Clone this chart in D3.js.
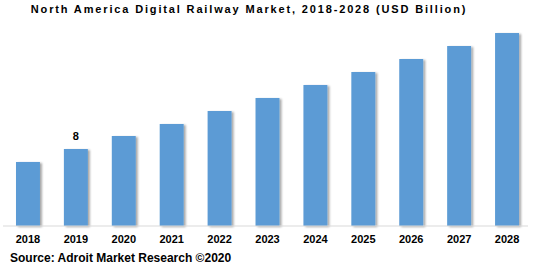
<!DOCTYPE html>
<html><head><meta charset="utf-8">
<script src="https://cdn.jsdelivr.net/npm/d3@7"></script>
<style>body{margin:0;background:#fff}svg{display:block}</style>
</head><body><svg id="c" width="533" height="267"></svg>
<script>
const years = ["2018","2019","2020","2021","2022","2023","2024","2025","2026","2027","2028"];
const values = [6.65,8,9.35,10.6,11.95,13.3,14.65,16,17.35,18.7,20.05];
const labelled = {"2019":"8"};
const title = "North America Digital Railway Market, 2018-2028 (USD Billion)";
const source = "Source: Adroit Market Research ©2020";

const svg = d3.select("#c");
const x = d3.scaleBand().domain(years).range([4,531]).paddingInner(0.5).paddingOuter(0.25);
const y = d3.scaleLinear().domain([0,22]).range([226,226-22*9.625]);

const defs = svg.append("defs");
const f = defs.append("filter").attr("id","sh").attr("x","-20%").attr("y","-20%").attr("width","150%").attr("height","150%");
f.append("feDropShadow").attr("dx",2).attr("dy",1).attr("stdDeviation",1.3).attr("flood-color","#000").attr("flood-opacity",0.35);

svg.append("text").attr("x",249).attr("y",13).attr("text-anchor","middle")
  .attr("font-family","Arial, 'Liberation Sans', sans-serif").attr("font-weight","bold").attr("font-size",11)
  .attr("letter-spacing","1.85px").attr("fill","#000").text(title);

svg.append("g").selectAll("rect").data(years).join("rect")
  .attr("x",d=>x(d)).attr("width",x.bandwidth())
  .attr("y",(d,i)=>y(values[i])).attr("height",(d,i)=>y(0)-y(values[i]))
  .attr("fill","#5B9BD5").attr("filter","url(#sh)");

const ax = svg.append("g").attr("transform","translate(0,226)")
  .call(d3.axisBottom(x).tickSize(0).tickPadding(9));
ax.select(".domain").attr("d","M3,0H528").attr("stroke","#d9d9d9").attr("stroke-width",1);
ax.selectAll("text").attr("font-family","Arial, 'Liberation Sans', sans-serif").attr("font-weight","bold").attr("font-size",11).attr("fill","#000");

svg.append("g").selectAll("text").data(years.filter(d=>labelled[d])).join("text")
  .attr("x",d=>x(d)+x.bandwidth()/2).attr("y",d=>y(values[years.indexOf(d)])-9)
  .attr("text-anchor","middle").attr("font-family","Arial, 'Liberation Sans', sans-serif")
  .attr("font-weight","bold").attr("font-size",11).attr("fill","#000").text(d=>labelled[d]);

svg.append("text").attr("x",10).attr("y",262)
  .attr("font-family","Arial, 'Liberation Sans', sans-serif").attr("font-weight","bold").attr("font-size",12)
  .attr("fill","#000").text(source);
</script></body></html>
